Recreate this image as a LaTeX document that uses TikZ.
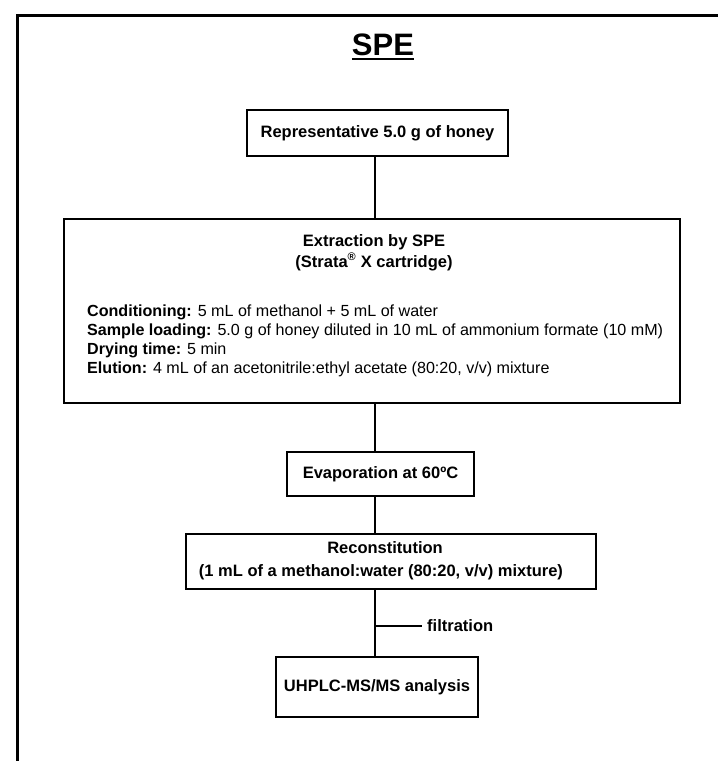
\documentclass[tikz,border=0pt]{standalone}
\usepackage{fontspec}
\setmainfont{Liberation Sans}
\begin{document}
\begin{tikzpicture}[x=1pt,y=-1pt,
  box/.style={draw,line width=2.6pt,inner sep=0pt,fill=white},
  btxt/.style={font=\fontsize{16.5}{19}\selectfont\bfseries,inner sep=0pt},
  rtxt/.style={font=\fontsize{16.1}{19}\selectfont,inner sep=0pt,anchor=west},
  conn/.style={line width=2.6pt}]
\useasboundingbox (0,0) rectangle (718,761);
\fill[white] (0,0) rectangle (718,761);
\draw[line width=3pt] (17,761) -- (17,15) -- (718,15);
% title
\node[inner sep=0pt,font=\fontsize{31}{34}\selectfont\bfseries] (title) at (383,45) {SPE};
\draw[line width=2pt] ([yshift=-3pt]title.south west) -- ([yshift=-3pt]title.south east);
% boxes
\node[box,minimum width=261pt,minimum height=46pt] (b1) at (377.5,133) {};
\node[btxt] (t1) at (b1.center) {Representative 5.0 g of honey};
\node[box,minimum width=616pt,minimum height=184pt] (ext) at (372,311) {};
\node[btxt] (e1) at (374,242) {Extraction by SPE};
\node[btxt] (e2) at (374,262) {(Strata\textsuperscript{\fontsize{11}{12}\selectfont\textregistered} X cartridge)};
\node[rtxt] (l1) at (87,312) {\textbf{Conditioning:} 5 mL of methanol + 5 mL of water};
\node[rtxt] (l2) at (87,331) {\textbf{Sample loading:} 5.0 g of honey diluted in 10 mL of ammonium formate (10 mM)};
\node[rtxt] (l3) at (87,350) {\textbf{Drying time:} 5 min};
\node[rtxt] (l4) at (87,369) {\textbf{Elution:} 4 mL of an acetonitrile:ethyl acetate (80:20, v/v) mixture};
\node[box,minimum width=187pt,minimum height=44pt] (ev) at (380.5,474) {};
\node[btxt] (evt) at (ev.center) {Evaporation at 60ºC};
\node[box,minimum width=410pt,minimum height=55pt] (rc) at (391,561.5) {};
\node[btxt] (rc1) at (385,548) {Reconstitution};
\node[btxt] (rc2) at (381,572) {(1 mL of a methanol:water (80:20, v/v) mixture)};
\node[box,minimum width=202pt,minimum height=60pt] (uh) at (377,687) {};
\node[btxt] (uht) at (uh.center) {UHPLC-MS/MS analysis};
% connectors
\coordinate (cx) at (375,0);
\draw[conn] (b1.south -| cx) -- (ext.north -| cx);
\draw[conn] (ext.south -| cx) -- (ev.north -| cx);
\draw[conn] (ev.south -| cx) -- (rc.north -| cx);
\draw[conn] (rc.south -| cx) -- (uh.north -| cx);
\coordinate (fb) at (375,626);
\node[btxt,anchor=west] (filt) at (427,626) {filtration};
\draw[conn] (fb) -- ([xshift=-5pt]filt.west);
\end{tikzpicture}
\end{document}
